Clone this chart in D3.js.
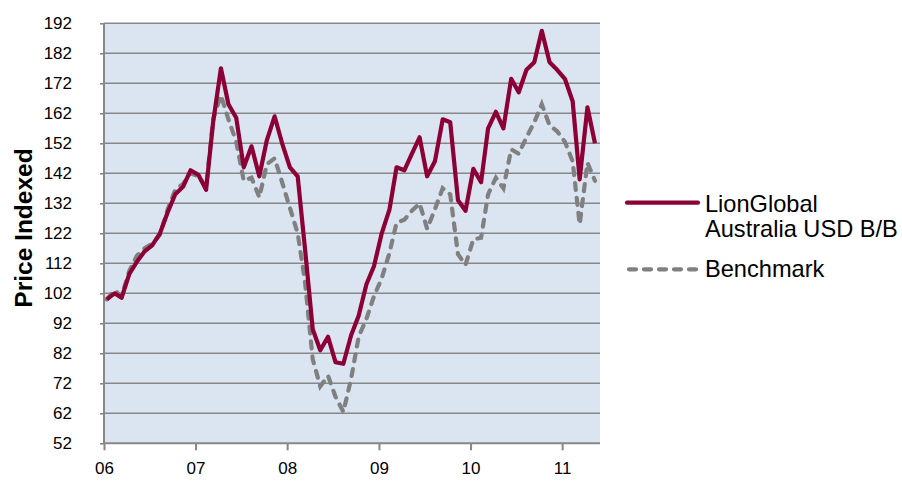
<!DOCTYPE html>
<html>
<head>
<meta charset="utf-8">
<script src="https://cdn.jsdelivr.net/npm/d3@7"></script>
<style>
  body { margin: 0; background: #fff; }
  text { font-family: "Liberation Sans", Arial, sans-serif; fill: #000; }
</style>
</head>
<body>
<svg id="chart" width="902" height="481"></svg>
<script>
// tick labels
var yearLabels = ["06", "07", "08", "09", "10", "11"];
var yTicks = [52, 62, 72, 82, 92, 102, 112, 122, 132, 142, 152, 162, 172, 182, 192];

// monthly index values, Jan 2006 .. May 2011
var fund = [100, 102, 100.5, 108.5, 112.5, 116, 118, 122, 129, 135,
            137.5, 143, 141.5, 136.5, 159, 177, 165, 160.5, 144, 151,
            141, 153, 161, 152, 144, 141, 117, 90, 83, 87.5,
            79, 78.5, 88, 94.5, 105, 111, 122, 130, 144, 143,
            148.5, 154, 141, 146, 160, 159, 133, 129.5, 143.5, 139,
            157, 162.5, 157, 173.5, 169, 176.5, 179, 189.5, 179, 176.5,
            173.5, 166, 140, 164, 152];
var bench = [100, 103, 101, 109.5, 114.5, 117, 118.5, 121.5, 130, 136.5,
             138.5, 142, 141, 137.5, 160, 168, 160, 152.5, 139.5, 140.5,
             134, 145, 147, 139, 130.5, 122, 106, 80, 71, 74.5,
             67.5, 62.5, 73.5, 87.5, 93.5, 101, 107, 115.5, 125.5, 126.5,
             129.5, 132, 123.5, 130, 137, 135, 115, 111.5, 120, 120.5,
             135, 140.5, 137, 150, 148.5, 154, 159, 165, 158, 156,
             152.5, 146, 125, 145.5, 139.5];
var seriesNames = [["LionGlobal", "Australia USD B/B"], ["Benchmark"]];

var firstMonth = new Date(2006, 0, 12);
var months = fund.map(function(d, i) { return d3.timeMonth.offset(firstMonth, i); });

var svg = d3.select("#chart");
var margin = {top: 23.3, right: 302, bottom: 37.7, left: 104};
var width = 902 - margin.left - margin.right;
var height = 481 - margin.top - margin.bottom;

var x = d3.scaleTime()
    .domain([new Date(2006, 0, 1), new Date(2011, 5, 1)])
    .range([0, width]);
var y = d3.scaleLinear()
    .domain([52, 192])
    .range([height, 0]);

var g = svg.append("g")
    .attr("transform", "translate(" + margin.left + "," + margin.top + ")");

// plot background
g.append("rect")
    .attr("width", width)
    .attr("height", height)
    .attr("fill", "#dbe5f1");

// gridlines
g.append("g")
    .selectAll("line")
    .data(yTicks.slice(1))
    .enter().append("line")
    .attr("x1", 0)
    .attr("x2", width)
    .attr("y1", function(d) { return y(d); })
    .attr("y2", function(d) { return y(d); })
    .attr("stroke", "#878787")
    .attr("stroke-width", 1.6);

// y axis
var yAxis = d3.axisLeft(y)
    .tickValues(yTicks)
    .tickSize(4)
    .tickPadding(28)
    .tickFormat(d3.format("d"));
var yg = g.append("g").call(yAxis);
yg.select(".domain").remove();
yg.selectAll(".tick line").attr("stroke", "#878787").attr("stroke-width", 1.6);
yg.selectAll(".tick text").attr("font-size", 17).attr("font-family", "Liberation Sans, Arial, sans-serif");

// x axis
var xAxis = d3.axisBottom(x)
    .ticks(d3.timeYear.every(1))
    .tickSize(7)
    .tickPadding(12)
    .tickFormat(function(d, i) { return yearLabels[i]; });
var xg = g.append("g")
    .attr("transform", "translate(0," + height + ")")
    .call(xAxis);
xg.select(".domain").remove();
xg.selectAll(".tick line").attr("stroke", "#878787").attr("stroke-width", 2);
xg.selectAll(".tick text").attr("font-size", 17).attr("font-family", "Liberation Sans, Arial, sans-serif");

// axis lines
g.append("line").attr("x1", 0).attr("x2", 0).attr("y1", 0).attr("y2", height)
    .attr("stroke", "#878787").attr("stroke-width", 2);
g.append("line").attr("x1", 0).attr("x2", width).attr("y1", height).attr("y2", height)
    .attr("stroke", "#878787").attr("stroke-width", 2);

var line = d3.line()
    .x(function(d, i) { return x(months[i]); })
    .y(function(d) { return y(d); });

g.append("path")
    .datum(bench)
    .attr("d", line)
    .attr("fill", "none")
    .attr("stroke", "#808080")
    .attr("stroke-width", 4.2)
    .attr("stroke-linecap", "round")
    .attr("stroke-dasharray", "7,8");

g.append("path")
    .datum(fund)
    .attr("d", line)
    .attr("fill", "none")
    .attr("stroke", "#8c0036")
    .attr("stroke-width", 4.2)
    .attr("stroke-linejoin", "round");

// y title
svg.append("text")
    .attr("transform", "translate(32,228) rotate(-90)")
    .attr("text-anchor", "middle")
    .attr("font-size", 24.5)
    .attr("font-weight", "bold")
    .text("Price Indexed");

// legend
var legend = svg.append("g");
legend.append("line")
    .attr("x1", 627).attr("x2", 698).attr("y1", 202.7).attr("y2", 202.7)
    .attr("stroke", "#8c0036").attr("stroke-width", 4.2).attr("stroke-linecap", "round");
legend.append("text")
    .attr("x", 705).attr("y", 211.5)
    .attr("font-size", 23.6)
    .selectAll("tspan")
    .data(seriesNames[0])
    .enter().append("tspan")
    .attr("x", 705)
    .attr("dy", function(d, i) { return i == 0 ? 0 : 25.5; })
    .text(function(d) { return d; });
legend.append("line")
    .attr("x1", 629).attr("x2", 698).attr("y1", 269.3).attr("y2", 269.3)
    .attr("stroke", "#808080").attr("stroke-width", 4.2)
    .attr("stroke-linecap", "round").attr("stroke-dasharray", "7,8");
legend.append("text")
    .attr("x", 705).attr("y", 277.3)
    .attr("font-size", 23.6)
    .text(seriesNames[1][0]);
</script>
</body>
</html>
